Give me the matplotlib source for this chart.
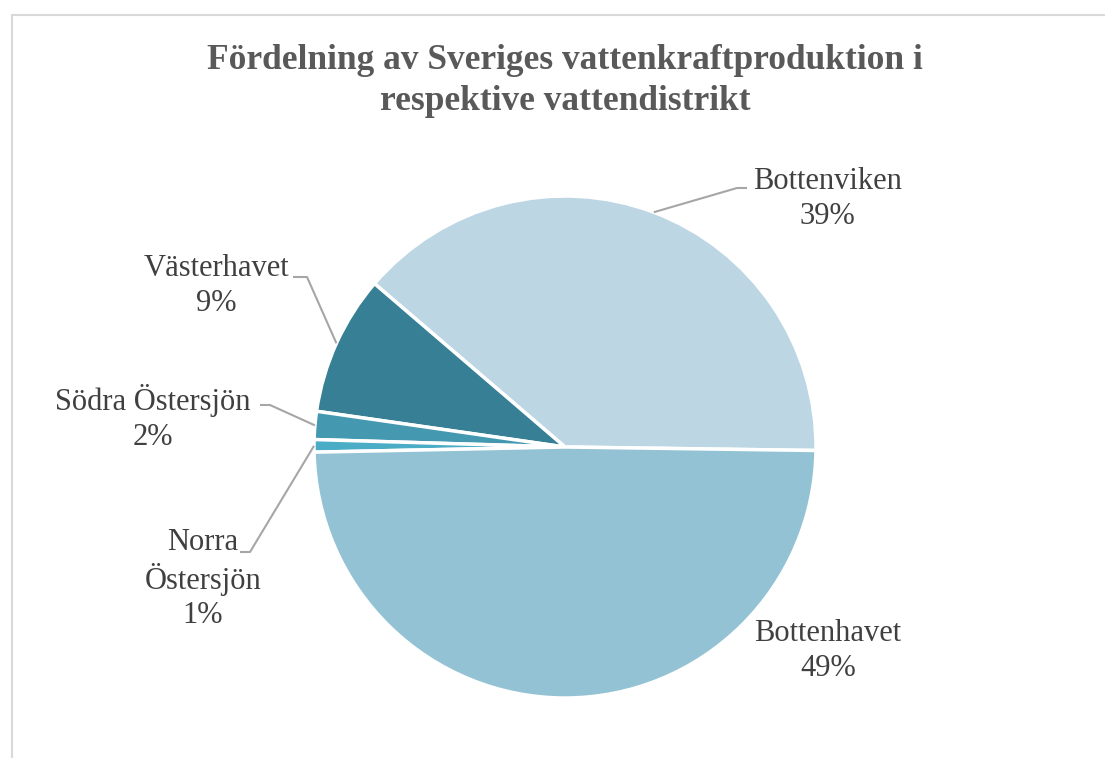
import matplotlib
matplotlib.use("Agg")
import matplotlib.pyplot as plt
import numpy as np
from matplotlib.patches import Rectangle

# ---- data ----
districts = ["Bottenviken", "Västerhavet", "Södra Östersjön", "Norra Östersjön", "Bottenhavet"]
shares = [38.9, 9.0, 1.8, 0.8, 49.4]
colors = ["#BCD7E3", "#367F94", "#4499B1", "#4BACC6", "#93C2D4"]
label_texts = ["Bottenviken", "Västerhavet", "Södra Östersjön", "Norra\nÖstersjön", "Bottenhavet"]
title = "Fördelning av Sveriges vattenkraftproduktion i\nrespektive vattendistrikt"

W, H = 1105, 758
fig = plt.figure(figsize=(W / 100, H / 100), dpi=100)
ax = fig.add_axes([0, 0, 1, 1])
ax.set_xlim(0, W)
ax.set_ylim(0, H)
ax.set_aspect("equal")
ax.axis("off")

# chart border (cropped at right/bottom)
ax.add_patch(Rectangle((11.5, -20), W + 40, H - 14.5 + 20, fill=False,
                       edgecolor="#D9D9D9", linewidth=1.5))

cx, cy, r = 565, H - 447, 251
start = -0.8
wedges, _ = ax.pie(shares, colors=colors, startangle=start, counterclock=True,
                   center=(cx, cy), radius=r, frame=True,
                   wedgeprops=dict(edgecolor="white", linewidth=2.5))
ax.set_xlim(0, W)
ax.set_ylim(0, H)
ax.axis("off")

font = "Liberation Serif"
total = sum(shares)
pcts = [f"{round(v / total * 100):d}%" for v in shares]

# label centres and leader elbows (pixel coords, y from top)
label_pos = [(827, 199), (216, 286), (153, 418), (203, 579), (828, 651)]
elbows = [((747, 188), (737, 188)),
          ((293, 277), (307, 277)),
          ((260, 405), (270, 405)),
          ((240, 552), (250, 552)),
          None]

for w, txt, pct, pos, elb in zip(wedges, label_texts, pcts, label_pos, elbows):
    ax.text(pos[0], H - pos[1], f"{txt}\n{pct}", ha="center", va="center",
            fontsize=22, family=font, color="#404040", linespacing=1.24)
    if elb is not None:
        mid = np.deg2rad((w.theta1 + w.theta2) / 2)
        ax_, ay_ = cx + r * np.cos(mid), cy + r * np.sin(mid)
        xs = [elb[0][0], elb[1][0], ax_]
        ys = [H - elb[0][1], H - elb[1][1], ay_]
        ax.plot(xs, ys, color="#A6A6A6", linewidth=1.5, solid_capstyle="butt")

ax.text(565, H - 81, title, ha="center", va="center", fontsize=25.5,
        fontweight="bold", family=font, color="#595959", linespacing=1.3)

fig.savefig("out.png", dpi=100)
